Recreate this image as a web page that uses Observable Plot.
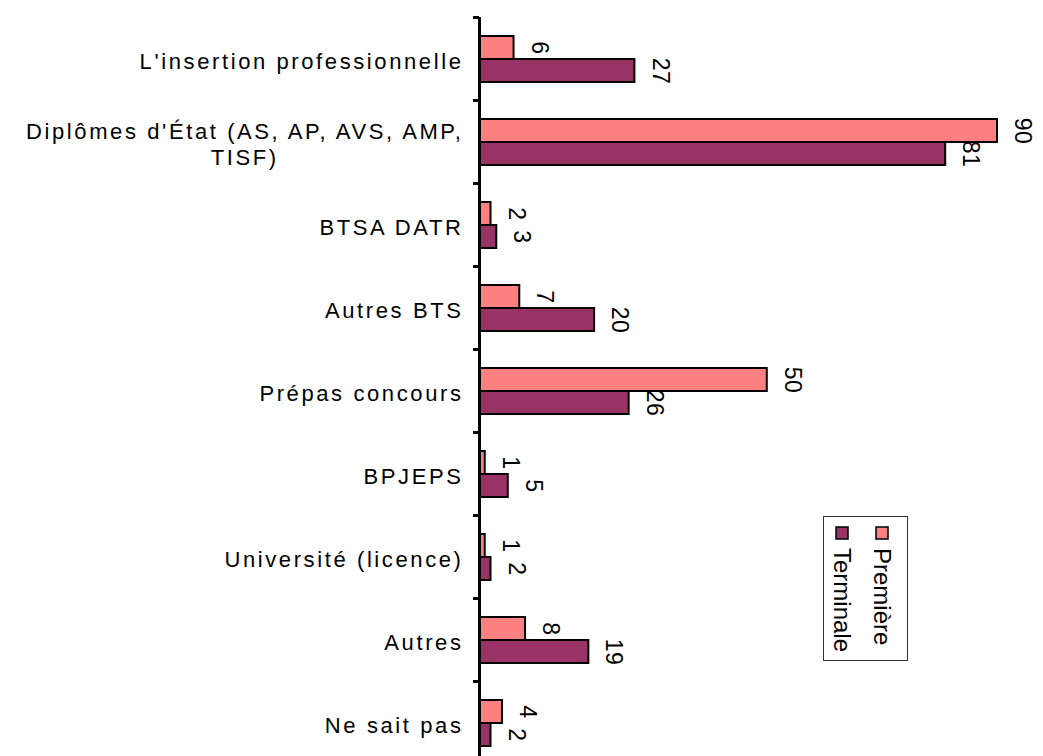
<!DOCTYPE html>
<html>
<head>
<meta charset="utf-8">
<script src="https://cdn.jsdelivr.net/npm/d3@7"></script>
<script src="https://cdn.jsdelivr.net/npm/@observablehq/plot@0.6"></script>
<style>
  html, body { margin: 0; padding: 0; background: #fff; overflow: hidden; }
  #chart { position: relative; width: 1043px; height: 756px; overflow: hidden; }
  svg { font-family: "Liberation Sans", Arial, sans-serif; }
  g[aria-label="fy-axis tick label"] text { letter-spacing: 2.6px; }
  g[aria-label="text"] text { letter-spacing: 0.5px; }
</style>
</head>
<body>
<div id="chart"></div>
<script>
const categories = [
  "L'insertion professionnelle",
  "Diplômes d'État (AS, AP, AVS, AMP,\nTISF)",
  "BTSA DATR",
  "Autres BTS",
  "Prépas concours",
  "BPJEPS",
  "Université (licence)",
  "Autres",
  "Ne sait pas"
];
const series = ["Première", "Terminale"];
const premiere = [6, 90, 2, 7, 50, 1, 1, 8, 4];
const terminale = [27, 81, 3, 20, 26, 5, 2, 19, 2];
const colors = ["#FF8080", "#993366"];

const rows = [];
categories.forEach((c, i) => {
  rows.push({cat: c, series: series[0], value: premiere[i]});
  rows.push({cat: c, series: series[1], value: terminale[i]});
});

const chart = Plot.plot({
  width: 1043,
  height: 764,
  marginLeft: 479,
  marginRight: 46,
  marginTop: 17,
  marginBottom: 0,
  x: {domain: [0, 90], axis: null},
  y: {domain: series, paddingInner: 0, paddingOuter: 0.73, axis: null},
  fy: {domain: categories, padding: 0, label: null},
  color: {domain: series, range: colors},
  marks: [
    Plot.barX(rows, {fy: "cat", y: "series", x: "value", fill: "series", stroke: "black", strokeWidth: 2}),
    Plot.text(rows, {fy: "cat", y: "series", x: "value", text: d => String(d.value), rotate: 90, dx: 25, fontSize: 23, fill: "black"}),
    Plot.ruleX([0], {stroke: "black", strokeWidth: 3}),
    Plot.axisFy({anchor: "left", tickSize: 6, tickFormat: () => "", dy: -41.5, strokeWidth: 3, label: null}),
    Plot.axisFy({anchor: "left", tickSize: 0, tickPadding: 16, fontSize: 22, dy: 2, lineHeight: 1.15, fill: "black", label: null})
  ]
});
document.getElementById("chart").appendChild(chart);

// centre the lines of multi-line category labels on each other
const svg = d3.select(chart);
svg.selectAll('g[aria-label="fy-axis tick label"] text').each(function() {
  const tspans = this.querySelectorAll("tspan");
  if (tspans.length > 1) {
    let w = 0;
    tspans.forEach(t => { w = Math.max(w, t.getComputedTextLength()); });
    this.setAttribute("text-anchor", "middle");
    const tr = this.getAttribute("transform") || "";
    this.setAttribute("transform", tr + ` translate(${-w / 2},0)`);
  }
});

// legend (rotated, inside the plot area)
const lg = svg.append("g")
  .attr("font-family", '"Liberation Sans", Arial, sans-serif')
  .attr("text-anchor", "start");
lg.append("rect").attr("x", 823.5).attr("y", 516.5).attr("width", 84).attr("height", 144)
  .attr("fill", "white").attr("stroke", "#333").attr("stroke-width", 1);
const cols = [882, 842];
series.forEach((s, i) => {
  lg.append("rect").attr("x", cols[i] - 6).attr("y", 527).attr("width", 12).attr("height", 12)
    .attr("fill", colors[i]).attr("stroke", "black").attr("stroke-width", 1.5);
  lg.append("text").attr("transform", `translate(${cols[i]},548) rotate(90)`)
    .attr("text-anchor", "start")
    .attr("dy", "0.35em").attr("font-size", 24).attr("fill", "black").text(s);
});
</script>
</body>
</html>
